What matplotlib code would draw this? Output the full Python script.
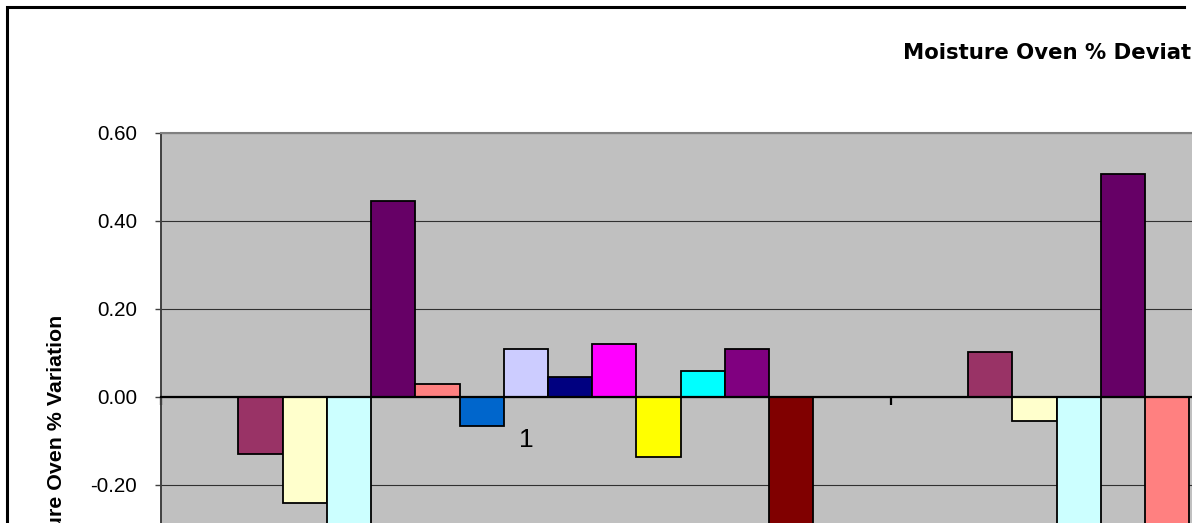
import numpy as np
import matplotlib
matplotlib.use("Agg")
import matplotlib.pyplot as plt
from matplotlib.lines import Line2D
from matplotlib.ticker import FormatStrFormatter

plt.rcParams['font.family'] = ['Liberation Sans', 'DejaVu Sans']

# data (values below the visible crop are estimates)
categories = ['1', '2']
series_colors = ['#9999FF', '#993366', '#FFFFCC', '#CCFFFF', '#660066',
                 '#FF8080', '#0066CC', '#CCCCFF', '#000080', '#FF00FF',
                 '#FFFF00', '#00FFFF', '#800080', '#800000', '#008080']
s1 = [0.0, 0.0]
s2 = [-0.130, 0.102]
s3 = [-0.240, -0.055]
s4 = [-0.45, -0.40]
s5 = [0.445, 0.507]
s6 = [0.029, -0.45]
s7 = [-0.065, 0.0]
s8 = [0.109, 0.0]
s9 = [0.045, 0.0]
s10 = [0.120, 0.0]
s11 = [-0.136, 0.0]
s12 = [0.060, 0.0]
s13 = [0.109, 0.0]
s14 = [-0.50, 0.0]
s15 = [0.0, 0.0]
series_values = [s1, s2, s3, s4, s5, s6, s7, s8, s9, s10, s11, s12, s13, s14, s15]
y_ticks = [-0.8, -0.6, -0.4, -0.2, 0.0, 0.2, 0.4, 0.6]

W, H = 1192, 523
fig = plt.figure(figsize=(W / 100, H / 100), dpi=100)

# plot area geometry in pixels (chart is cropped, axes run past the image)
left_px, top_px = 161, 133
px_per_unit = 440
ymin, ymax = -0.8, 0.6
cat_px = 729.7
plot_h = (ymax - ymin) * px_per_unit
ax = fig.add_axes([left_px / W, 1 - (top_px + plot_h) / H,
                   len(categories) * cat_px / W, plot_h / H])

n = len(series_values)
gap = 1.5
w = 1 / (n + gap)
for k, (vals, col) in enumerate(zip(series_values, series_colors)):
    xs = np.arange(len(categories)) + w * (gap / 2 + k + 0.5)
    ax.bar(xs, vals, width=w, color=col, edgecolor='black', linewidth=1.3, zorder=2)

ax.set_xlim(0, len(categories))
ax.set_ylim(ymin, ymax)
ax.set_facecolor('#C0C0C0')

ax.set_yticks(y_ticks)
ax.yaxis.set_major_formatter(FormatStrFormatter('%.2f'))
ax.tick_params(axis='y', direction='out', length=4.3, width=1, color='#404040',
               labelsize=14.8, pad=13)
ax.grid(axis='y', color='#303030', lw=0.8)
ax.set_axisbelow(True)

# category axis sits on zero
ax.spines['bottom'].set_position(('data', 0))
ax.spines['bottom'].set_color('black')
ax.spines['bottom'].set_linewidth(1.6)
ax.spines['bottom'].set_zorder(3)
ax.spines['left'].set_color('#404040')
ax.spines['left'].set_linewidth(1.4)
ax.spines['top'].set_color('#808080')
ax.spines['top'].set_linewidth(1.5)
ax.spines['right'].set_color('#808080')

ax.set_xticks(np.arange(len(categories)) + 0.5)
ax.set_xticklabels(categories)
ax.set_xticks(np.arange(len(categories) + 1), minor=True)
ax.tick_params(axis='x', which='major', length=0, labelsize=19, pad=22)
ax.tick_params(axis='x', which='minor', direction='out', length=6, width=1.6, color='black')

ax.set_ylabel('Moisture Oven % Variation', fontsize=15.4, fontweight='bold', va='center')
ax.yaxis.set_label_coords((56 - left_px) / (len(categories) * cat_px), 0.5 - 9 / plot_h)

fig.text(903 / W, 1 - 59 / H, 'Moisture Oven % Deviation', fontsize=15.3,
         fontweight='bold', family='DejaVu Sans', va='baseline', ha='left')

# outer chart border
bx, by = 6.5, 6.5
fig.add_artist(Line2D([bx / W, bx / W, 1184 / W], [-0.1, 1 - by / H, 1 - by / H],
                      transform=fig.transFigure, color='black', lw=2.2,
                      solid_joinstyle='miter'))

fig.savefig('out.png', dpi=100)
